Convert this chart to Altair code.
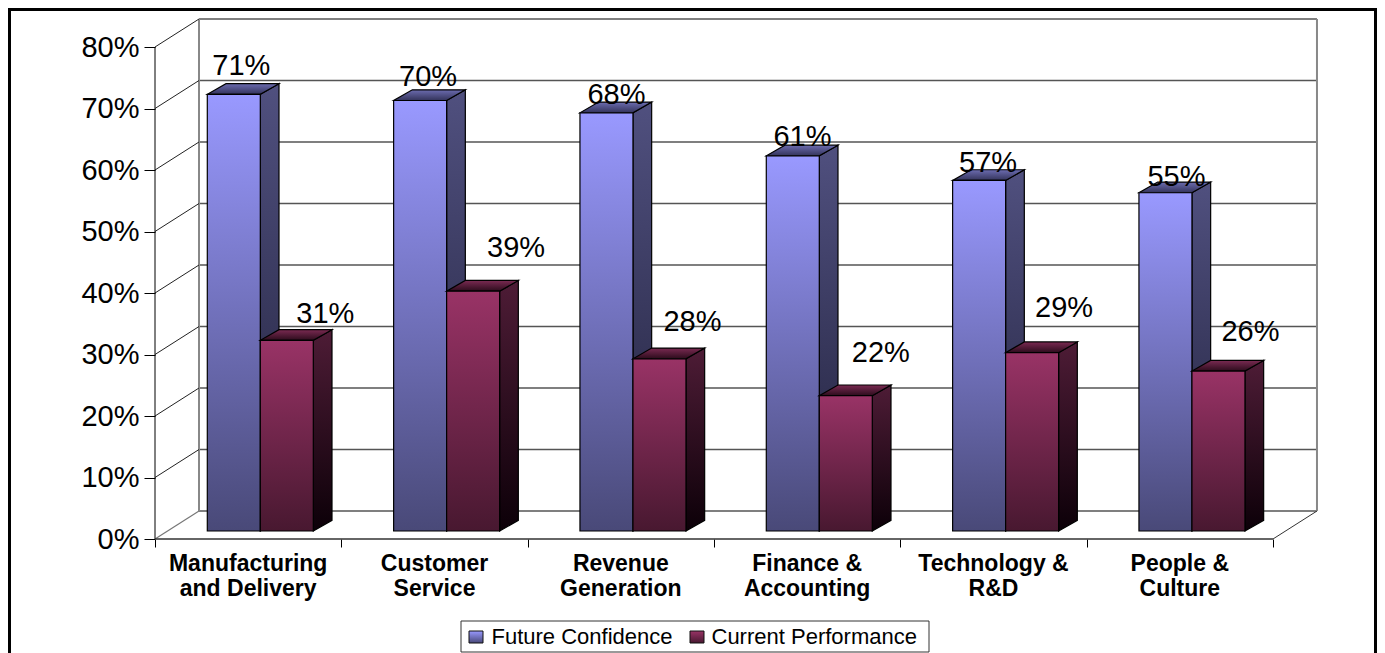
import altair as alt
import pandas as pd

CATEGORIES = ["Manufacturing\nand Delivery", "Customer\nService", "Revenue\nGeneration",
              "Finance &\nAccounting", "Technology &\nR&D", "People &\nCulture"]
FUTURE = [71, 70, 68, 61, 57, 55]
CURRENT = [31, 39, 28, 22, 29, 26]
TICKS = [0, 10, 20, 30, 40, 50, 60, 70, 80]
SERIES = ["Future Confidence", "Current Performance"]

# label centres, pixel offsets from the bar's front-top centre
FUT_DX = [7.5, 8, 10, 9.7, 9, 11]
FUT_DY = [-28, -23.5, -17.5, -19, -17.5, -16]
CUR_DX = [38.5, 43, 33, 35, 32, 32]
CUR_DY = [-26, -43, -37, -43, -45, -39]

# layout: canvas pixels, canvas starts at page (8,8)
W, H = 1369, 645
UNIT = 186.33       # px per category
PCT = 6.15          # px per percent
X0, Y0 = 155 - 8, 539 - 8   # origin of the front axis inside the canvas
xs = alt.Scale(domain=[-X0 / UNIT, (W - X0) / UNIT], nice=False, zero=False)
ys = alt.Scale(domain=[(Y0 - H) / PCT, Y0 / PCT], nice=False, zero=False)
WALL_DX, WALL_DY = 44 / UNIT, 28 / PCT
BAR_DX, BAR_DY = 18.7 / UNIT, 10.7 / PCT
BAR_L, BAR_W, BAR_BASE = 52.3 / UNIT, 53 / UNIT, 8 / PCT


def X(f="x", **k):
    return alt.X(f"{f}:Q", scale=xs, axis=None, **k)


def Y(f="y", **k):
    return alt.Y(f"{f}:Q", scale=ys, axis=None, **k)


def seg(rows, color, width):
    d = pd.DataFrame([{"x": a, "x2": c, "y": b, "y2": e} for a, b, c, e in rows])
    return alt.Chart(d).mark_rule(color=color, strokeWidth=width).encode(
        X(), x2="x2:Q", y=Y(), y2="y2:Q")


def grad(top, bottom):
    return alt.Gradient(gradient="linear", x1=1, y1=0, x2=1, y2=1,
                        stops=[alt.GradientStop(color=top, offset=0),
                               alt.GradientStop(color=bottom, offset=1)])


def bars(values, slot, front, side, top):
    fr, sd, tp = [], [], []
    for i, v in enumerate(values):
        a = i + BAR_L + slot * BAR_W
        b = a + BAR_W
        t = v + BAR_BASE
        fr.append({"x": a, "x2": b, "y": BAR_BASE, "y2": t})
        sd += [{"k": i, "x": b, "y": BAR_BASE, "y2": t},
               {"k": i, "x": b + BAR_DX, "y": BAR_BASE + BAR_DY, "y2": t + BAR_DY}]
        up = t + BAR_DY
        tp += [{"k": i, "x": a, "y": t, "y2": t},
               {"k": i, "x": a + BAR_DX, "y": t, "y2": up},
               {"k": i, "x": b, "y": t, "y2": up},
               {"k": i, "x": b + BAR_DX, "y": up, "y2": up}]
    return [
        alt.Chart(pd.DataFrame(sd)).mark_area(fill=side, stroke="#000", strokeWidth=1.2).encode(
            X(), Y(), y2="y2:Q", detail="k:N"),
        alt.Chart(pd.DataFrame(tp)).mark_area(fill=top, stroke="#000", strokeWidth=1.2).encode(
            X(), Y(), y2="y2:Q", detail="k:N"),
        alt.Chart(pd.DataFrame(fr)).mark_rect(fill=front, stroke="#000", strokeWidth=1.2).encode(
            X(), x2="x2:Q", y=Y(), y2="y2:Q"),
    ]


layers = []

# frame
layers.append(alt.Chart(pd.DataFrame({"a": [0]})).mark_rect(
    fill=None, stroke="black", strokeWidth=3).encode(
    x=alt.value(1.5), x2=alt.value(W - 1.5), y=alt.value(1.5), y2=alt.value(700)))

# y axis and x ticks, real axes
layers.append(alt.Chart(pd.DataFrame({"y": TICKS})).mark_point(opacity=0).encode(
    x=alt.value(0),
    y=alt.Y("y:Q", scale=ys, title=None, axis=alt.Axis(
        values=TICKS, labelExpr="datum.value + '%'", grid=False, domain=False,
        offset=-X0, tickColor="black", tickSize=11, tickWidth=1,
        labelFont="Liberation Sans", labelFontSize=29, labelColor="black", labelPadding=5))))
layers.append(alt.Chart(pd.DataFrame({"x": list(range(7))})).mark_point(opacity=0).encode(
    y=alt.value(0),
    x=alt.X("x:Q", scale=xs, title=None, axis=alt.Axis(
        values=list(range(7)), labels=False, grid=False, domain=False,
        offset=Y0 - H, tickColor="black", tickSize=8, tickWidth=1))))

# walls
layers.append(seg([(WALL_DX, t + WALL_DY, 6 + WALL_DX, t + WALL_DY) for t in TICKS], "#555", 1.3))
layers.append(seg([(WALL_DX, WALL_DY, WALL_DX, 80 + WALL_DY),
                   (6 + WALL_DX, WALL_DY, 6 + WALL_DX, 80 + WALL_DY)], "#888", 2))
layers.append(seg([(0, t, WALL_DX, t + WALL_DY) for t in TICKS[1:]], "#222", 1))
layers.append(seg([(0, 0, WALL_DX, WALL_DY)], "#777", 1.2))
layers.append(seg([(6, 0, 6 + WALL_DX, WALL_DY)], "#333", 1))
layers.append(seg([(0, 0, 0, 80)], "black", 1))
layers.append(seg([(0, 0, 6, 0)], "#333", 1.4))

# bars
layers += bars(FUTURE, 0, grad("#9999FF", "#494978"), grad("#50507F", "#20203a"), grad("#6c6cb0", "#33335a"))
layers += bars(CURRENT, 1, grad("#993366", "#481830"), grad("#4E1C36", "#0c0008"), grad("#7a2a52", "#2c0c1c"))

# value labels
lab = []
for i in range(6):
    cf = i + BAR_L + 0.5 * BAR_W
    cc = cf + BAR_W
    lab.append({"x": cf + FUT_DX[i] / UNIT, "y": FUTURE[i] + BAR_BASE - FUT_DY[i] / PCT, "t": f"{FUTURE[i]}%"})
    lab.append({"x": cc + CUR_DX[i] / UNIT, "y": CURRENT[i] + BAR_BASE - CUR_DY[i] / PCT, "t": f"{CURRENT[i]}%"})
layers.append(alt.Chart(pd.DataFrame(lab)).mark_text(
    font="Liberation Sans", fontSize=29, color="black", baseline="middle", align="center").encode(
    X(), Y(), text="t:N"))

# category labels
cat = pd.DataFrame({"x": [i + 0.5 for i in range(6)], "y": [-25 / PCT] * 6, "t": CATEGORIES})
layers.append(alt.Chart(cat).mark_text(
    font="Liberation Sans", fontSize=23, fontWeight="bold", color="black",
    lineBreak="\n", lineHeight=25, baseline="middle", align="center").encode(
    X(), Y(), text="t:N"))

# legend
LX = lambda px: (px - 155) / UNIT
LY = lambda py: (539 - py) / PCT
layers.append(alt.Chart(pd.DataFrame({"x": [LX(461)], "x2": [LX(929)], "y": [LY(621)], "y2": [LY(652)]})).mark_rect(
    fill="white", stroke="#333", strokeWidth=1).encode(X(), x2="x2:Q", y=Y(), y2="y2:Q"))
for sx, tx, name, g in [(469, 491.5, SERIES[0], grad("#9999FF", "#494978")),
                        (690, 711.5, SERIES[1], grad("#993366", "#481830"))]:
    layers.append(alt.Chart(pd.DataFrame({"x": [LX(sx)], "x2": [LX(sx + 14)], "y": [LY(631)], "y2": [LY(643)]})).mark_rect(
        fill=g, stroke="#111", strokeWidth=1).encode(X(), x2="x2:Q", y=Y(), y2="y2:Q"))
    layers.append(alt.Chart(pd.DataFrame({"x": [LX(tx)], "y": [LY(637)], "t": [name]})).mark_text(
        font="Liberation Sans", fontSize=22, color="black", align="left", baseline="middle").encode(
        X(), Y(), text="t:N"))

chart = alt.layer(*layers).resolve_axis(x="independent", y="independent").properties(
    width=W, height=H, padding=0, autosize=alt.AutoSizeParams(type="none"),
    background="white"
).configure_view(stroke=None)

chart.save("out.html", embed_options={"renderer": "svg", "actions": False})
